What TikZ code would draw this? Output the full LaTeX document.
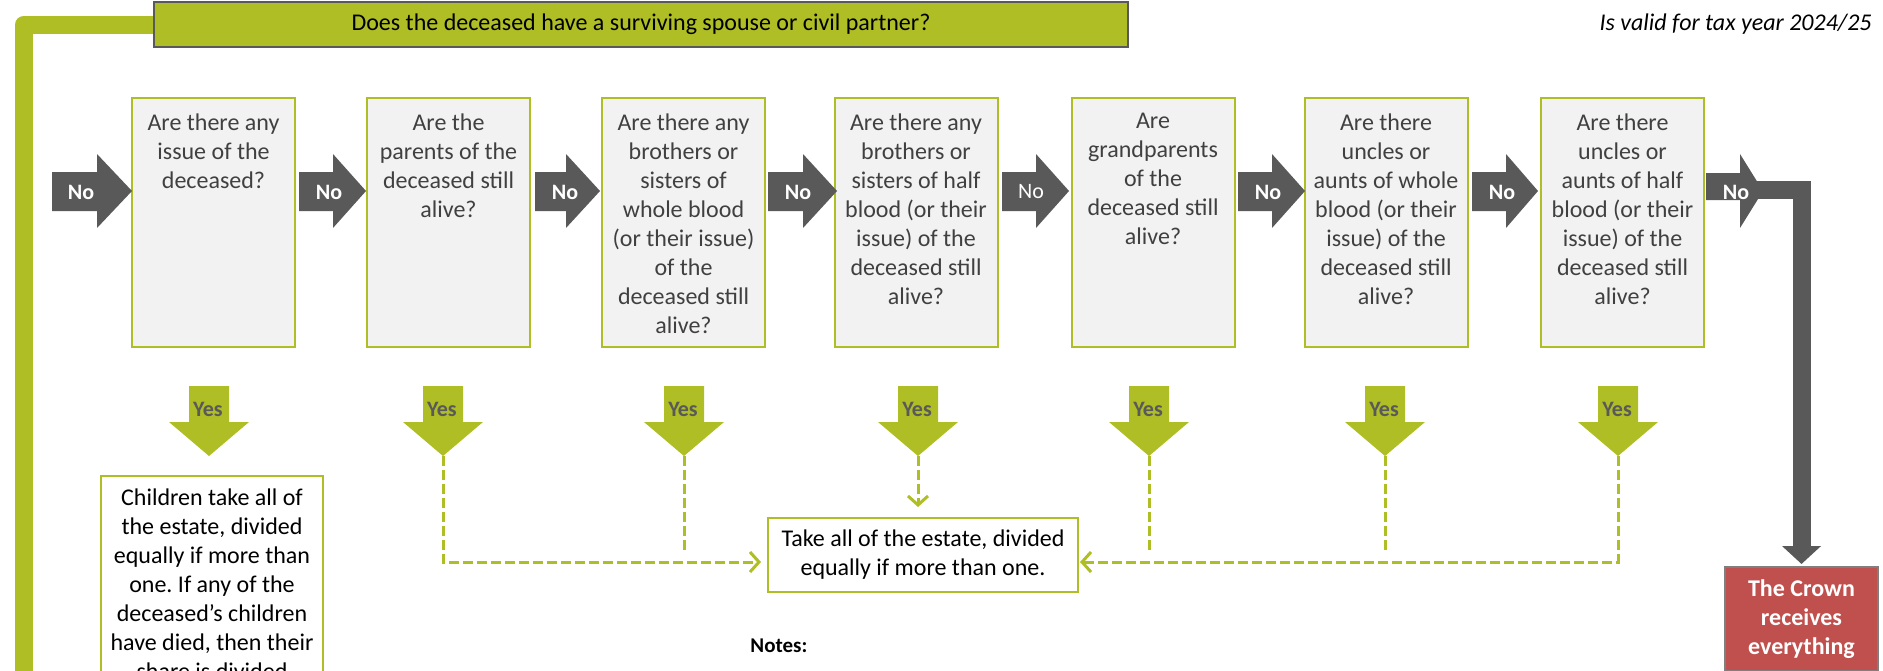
\documentclass[tikz,border=0pt]{standalone}
\usepackage{fontspec}
\setmainfont{Carlito}
\usetikzlibrary{arrows.meta,calc}
\pgfdeclarelayer{bg}
\pgfsetlayers{bg,main}
\frenchspacing
\definecolor{lgreen}{RGB}{175,190,36}
\definecolor{dgray}{RGB}{89,89,89}
\definecolor{qfill}{RGB}{242,242,242}
\definecolor{qtextc}{RGB}{64,64,64}
\definecolor{crownred}{RGB}{192,80,77}
\definecolor{crownedge}{RGB}{127,127,127}

% horizontal "No" block arrow: name, tail x, head start x, tip x, label x, label style, body top, body bottom
\newcommand\HArr[8]{%
  \fill[dgray] (#2,#7) -- (#3,#7) -- (#3,154) -- (#4,191) -- (#3,228) -- (#3,#8) -- (#2,#8) -- cycle;
  \node[nolab,#6] (#1) at (#5,192) {No};
}
% vertical "Yes" block arrow: name, tip x
\newcommand\VArr[2]{%
  \fill[lgreen] (#2-20,386) -- (#2+20,386) -- (#2+20,422) -- (#2+40,422) -- (#2,456) -- (#2-40,422) -- (#2-20,422) -- cycle;
  \node[yeslab] (#1) at (#2-1,409) {Yes};
  \coordinate (#1tip) at (#2,456);
}

\begin{document}
\begin{tikzpicture}[x=0.5pt,y=-0.5pt,
  every node/.style={font=\fontsize{12}{14.5}\selectfont},
  qbox/.style={draw=lgreen,line width=1pt,fill=qfill,minimum width=81.5pt,minimum height=124.5pt,inner sep=0pt},
  qtext/.style={text=qtextc,align=center,inner sep=0pt,anchor=north},
  nolab/.style={text=white,inner sep=0pt,font=\fontsize{11}{13}\selectfont\bfseries},
  nobold/.style={font=\fontsize{11}{13}\selectfont},
  yeslab/.style={text=dgray,inner sep=0pt,font=\fontsize{11}{13}\selectfont\bfseries},
  resbox/.style={draw=lgreen,line width=1pt,fill=white,inner sep=0pt},
  dashc/.style={draw=lgreen,line width=1.5pt,dash pattern=on 5pt off 2pt},
  dtip/.style={-{Straight Barb[length=4.5pt,width=10pt,line width=1.5pt]}}
]
\useasboundingbox (0,0) rectangle (1883,670);

% top question
\node[draw=dgray,line width=1pt,fill=lgreen,minimum width=487pt,minimum height=22.5pt,inner sep=0pt,text=black] (top) at (641,24.5) {Does the deceased have a surviving spouse or civil partner?};
\coordinate (gend) at (24,720);
\begin{pgfonlayer}{bg}
\draw[lgreen,line width=9pt,line join=round] (top.west) -| (gend);
\end{pgfonlayer}

\node[font=\fontsize{12}{14.5}\selectfont\itshape,anchor=base east,inner sep=0pt] (valid) at (1872,30) {Is valid for tax year 2024/25};

% question boxes
\node[qbox] (q1) at (213.5,222.5) {};
\node[qbox] (q2) at (448.5,222.5) {};
\node[qbox] (q3) at (683.5,222.5) {};
\node[qbox] (q4) at (916,222.5) {};
\node[qbox] (q5) at (1153,222.5) {};
\node[qbox] (q6) at (1386,222.5) {};
\node[qbox] (q7) at (1622.5,222.5) {};

\node[qtext] (q1t) at ([yshift=-8pt]q1.north) {Are there any\\issue of the\\deceased?};
\node[qtext] (q2t) at ([yshift=-8pt]q2.north) {Are the\\parents of the\\deceased still\\alive?};
\node[qtext] (q3t) at ([yshift=-8pt]q3.north) {Are there any\\brothers or\\sisters of\\whole blood\\(or their issue)\\of the\\deceased still\\alive?};
\node[qtext] (q4t) at ([yshift=-8pt]q4.north) {Are there any\\brothers or\\sisters of half\\blood (or their\\issue) of the\\deceased still\\alive?};
\node[qtext] (q5t) at ([yshift=-8pt]q5.north) {Are\\grandparents\\of the\\deceased still\\alive?};
\node[qtext] (q6t) at ([yshift=-8pt]q6.north) {Are there\\uncles or\\aunts of whole\\blood (or their\\issue) of the\\deceased still\\alive?};
\node[qtext] (q7t) at ([yshift=-8pt]q7.north) {Are there\\uncles or\\aunts of half\\blood (or their\\issue) of the\\deceased still\\alive?};

% No arrows
\HArr{n1}{52}{97}{132}{81}{}{172}{211}
\HArr{n2}{299}{333}{366}{329}{}{172}{211}
\HArr{n3}{535}{566}{600}{565}{}{172}{211}
\HArr{n4}{768}{803}{837}{798}{}{172}{211}
\HArr{n5}{1002}{1036}{1069}{1031}{nobold}{172}{211}
\HArr{n6}{1238}{1272}{1305}{1268}{}{172}{211}
\HArr{n7}{1472}{1506}{1538}{1502}{}{172}{211}
\HArr{n8}{1706}{1740}{1763}{1736}{}{173}{200}

% Yes arrows
\VArr{y1}{209}
\VArr{y2}{443}
\VArr{y3}{684}
\VArr{y4}{918}
\VArr{y5}{1149}
\VArr{y6}{1385}
\VArr{y7}{1618}

% result boxes
\node[resbox,minimum width=111pt,minimum height=122pt] (child) at (212,598) {};
\node[qtext,text=black] (childt) at ([yshift=-6.5pt]child.north) {Children take all of\\the estate, divided\\equally if more than\\one. If any of the\\deceased’s children\\have died, then their\\share is divided};

\node[resbox,minimum width=155pt,minimum height=37pt,align=center,text=black] (take) at (923,555) {Take all of the estate, divided\\equally if more than one.};

\node[draw=crownedge,line width=1pt,fill=crownred,minimum width=76.5pt,minimum height=52pt,inner sep=0pt,align=center,text=white,font=\fontsize{12}{14.5}\selectfont\bfseries] (crown) at (1801.5,619) {The Crown\\receives\\everything};

% dashed connectors
\draw[dashc,dtip,shorten >=3pt] (y2tip) |- ([yshift=-3.5pt]take.west);
\draw[dashc] (y3tip) -- ++(0,97);
\draw[dashc,dtip,shorten >=5pt] (y4tip) -- (y4tip |- take.north);
\draw[dashc,dtip,shorten >=0.5pt] (y7tip) |- ([yshift=-3.5pt]take.east);
\draw[dashc] (y5tip) -- ++(0,97);
\draw[dashc] (y6tip) -- ++(0,97);

% Crown connector
\coordinate (n8end) at (1750,190);
\begin{pgfonlayer}{bg}
\draw[dgray,line width=9pt,-{Triangle[length=9pt,width=19pt]},shorten >=1pt] (n8end) -| (crown.north);
\end{pgfonlayer}

\node[anchor=base west,inner sep=0pt,font=\fontsize{10.5}{12.5}\selectfont\bfseries] (notes) at (750,652) {Notes:};
\end{tikzpicture}
\end{document}
